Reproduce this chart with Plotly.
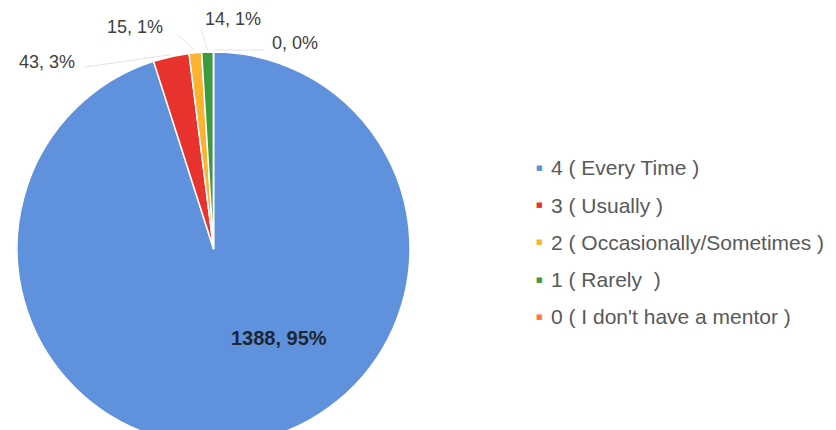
import math
import plotly.graph_objects as go

# ---- data ----
categories = ["4 ( Every Time )", "3 ( Usually )", "2 ( Occasionally/Sometimes )",
              "1 ( Rarely  )", "0 ( I don't have a mentor )"]
counts = [1388, 43, 15, 14, 0]
percent_labels = ["95%", "3%", "1%", "1%", "0%"]
colors = ["#5f91dc", "#e8322e", "#fdb22f", "#3c9a3c", "#f97a3d"]

# ---- layout constants (pixels) ----
W, H = 836, 450
CX, CY, R = 213.5, 248.5, 196.5


def px(x):
    return x / W


def py(y):
    return 1 - y / H


fig = go.Figure(go.Pie(
    labels=categories, values=counts, sort=False, direction="clockwise",
    rotation=0, marker=dict(colors=colors, line=dict(color="white", width=1.5)),
    textinfo="none", hoverinfo="label+value+percent", showlegend=False,
    domain=dict(x=[px(CX - R), px(CX + R)], y=[py(CY + R), py(CY - R)]),
))

# slice mid angles from data
total = sum(counts)
mids = []
acc = 0
for v in counts:
    mids.append((acc + v / 2) / total * 2 * math.pi)
    acc += v


def edge(a, k=1.0):
    return CX + R * k * math.sin(a), CY - R * k * math.cos(a)


# outside label positions (pixel centres) and leader anchor points
label_pos = {1: (47, 62), 2: (135, 27), 3: (233, 19), 4: (295, 43)}
leader_from = {1: (85, 67), 2: (177, 34), 3: (201, 29), 4: (264, 50)}

annotations = []
shapes = []
for i, (lx, ly) in label_pos.items():
    annotations.append(dict(
        x=px(lx), y=py(ly), xref="paper", yref="paper", showarrow=False,
        text=f"{counts[i]}, {percent_labels[i]}",
        font=dict(family="Liberation Sans, Arial", size=18, color="#404040"),
        xanchor="center", yanchor="middle"))
    ex, ey = edge(mids[i], 1.01)
    fx, fy = leader_from[i]
    shapes.append(dict(type="line", xref="paper", yref="paper",
                       x0=px(fx), y0=py(fy), x1=px(ex), y1=py(ey),
                       line=dict(color="#e4e4e4", width=1)))

# inside label for the large slice
annotations.append(dict(
    x=px(279), y=py(338), xref="paper", yref="paper", showarrow=False,
    text=f"<b>{counts[0]}, {percent_labels[0]}</b>",
    font=dict(family="Liberation Sans, Arial", size=20, color="#1b2735"),
    xanchor="center", yanchor="middle"))

# legend
for i, name in enumerate(categories):
    yy = 168 + i * 37.2
    annotations.append(dict(
        x=px(539), y=py(yy), xref="paper", yref="paper", showarrow=False,
        text="■", font=dict(family="DejaVu Sans", size=7, color=colors[i]),
        xanchor="center", yanchor="middle"))
    annotations.append(dict(
        x=px(549), y=py(yy), xref="paper", yref="paper", showarrow=False,
        text=name, font=dict(family="Liberation Sans, Arial", size=21, color="#595959"),
        xanchor="left", yanchor="middle"))

fig.update_layout(
    width=W, height=H, autosize=False,
    margin=dict(l=0, r=0, t=0, b=0),
    paper_bgcolor="white", plot_bgcolor="white",
    annotations=annotations, shapes=shapes,
)

fig.write_html("out.html", config={"displayModeBar": False},
               post_script="document.body.style.margin='0';document.body.style.overflow='hidden';")
